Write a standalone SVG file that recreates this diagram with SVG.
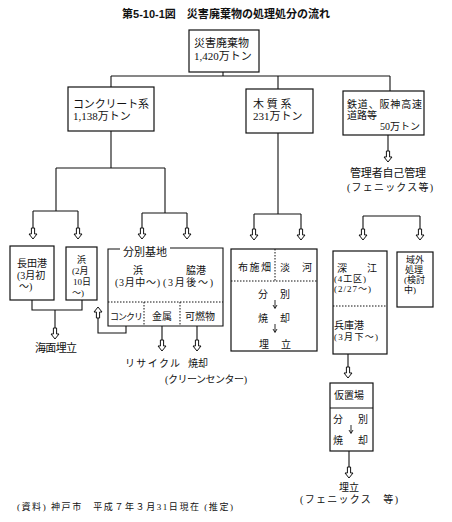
<svg xmlns="http://www.w3.org/2000/svg" width="452" height="522" viewBox="0 0 452 522">
<style>
.t{font-family:"Liberation Serif","Noto Sans CJK JP",serif;font-size:11px;fill:#111}
.s{font-size:10px}
.xs{font-size:9px}
.ttl{font-family:"Liberation Sans","Noto Sans CJK JP",sans-serif;font-size:11.5px;font-weight:bold;fill:#111}
.box{fill:#fff;stroke:#111;stroke-width:1.2}
.ln{fill:none;stroke:#111;stroke-width:1.1}
.thin{fill:none;stroke:#111;stroke-width:0.9}
.dot{fill:none;stroke:#111;stroke-width:1;stroke-dasharray:1.5 1.5}
.ar{fill:#fff;stroke:#111;stroke-width:1}
.m{text-anchor:middle}
</style>
<defs>
<path id="ad" class="ar" d="M-1.6,0 L1.6,0 L1.6,6 L4,6 L0,11 L-4,6 L-1.6,6 Z"/>
<path id="au" class="ar" d="M-1.6,11 L1.6,11 L1.6,5 L4,5 L0,0 L-4,5 L-1.6,5 Z"/>
<path id="sa" class="thin" d="M0,0 V8 M-2,5 L0,8.5 L2,5"/>
</defs>
<rect width="452" height="522" fill="#fff"/>

<text class="ttl" x="122" y="18" textLength="208" lengthAdjust="spacingAndGlyphs">第5-10-1図　災害廃棄物の処理処分の流れ</text>

<g id="connectors">
<path class="ln" d="M223,72 V76 M111,76 H390 M111,76 V87 M278,76 V89 M390,76 V91"/>
<path class="ln" d="M111,131 V168 M56,168 H165 M56,168 V211 M33,211 H78 M33,211 V228 M78,211 V228 M165,168 V213 M142,213 H187 M142,213 V228 M187,213 V228"/>
<path class="ln" d="M32,300 V310 H82 V300 M55,310 V328"/>
<path class="ln" d="M126,326 V333 H98 V318"/>
<path class="ln" d="M162,326 V340 M197,326 V340"/>
<path class="ln" d="M278,133 V214 M254,214 H301 M254,214 V229 M301,214 V229"/>
<path class="ln" d="M388,135 V151"/>
<path class="ln" d="M363,216 H420 M363,216 V229 M420,216 V229"/>
<path class="ln" d="M348,354 V367 M349,451 V467"/>
<use href="#ad" x="33" y="228"/>
<use href="#ad" x="78" y="228"/>
<use href="#ad" x="142" y="228"/>
<use href="#ad" x="187" y="228"/>
<use href="#ad" x="55" y="328"/>
<use href="#au" x="98" y="307"/>
<use href="#ad" x="162" y="340"/>
<use href="#ad" x="197" y="340"/>
<use href="#ad" x="254" y="229"/>
<use href="#ad" x="301" y="229"/>
<use href="#ad" x="388" y="151"/>
<use href="#ad" x="363" y="229"/>
<use href="#ad" x="420" y="229"/>
<use href="#ad" x="348" y="367"/>
<use href="#ad" x="349" y="467"/>
</g>

<g id="n-total">
<rect class="box" x="189" y="30" width="70" height="42"/>
<text class="t" x="194" y="47">災害廃棄物</text>
<text class="t" x="194" y="60">1,420万トン</text>
</g>

<g id="n-concrete">
<rect class="box" x="68" y="87" width="86" height="44"/>
<text class="t" x="73" y="108" textLength="76">コンクリート系</text>
<text class="t" x="73" y="120">1,138万トン</text>
</g>

<g id="n-wood">
<rect class="box" x="246" y="89" width="67" height="44"/>
<text class="t" x="253" y="108">木 質 系</text>
<text class="t" x="253" y="120">231万トン</text>
</g>

<g id="n-rail">
<rect class="box" x="343" y="91" width="81" height="44"/>
<text class="t s" x="347" y="107.5" textLength="75">鉄道、阪神高速</text>
<text class="t s" x="347" y="118.5">道路等</text>
<text class="t s" x="420" y="130" text-anchor="end">50万トン</text>
</g>

<g id="n-self">
<text class="t" x="350" y="177" textLength="76">管理者自己管理</text>
<text class="t s" x="347" y="191" textLength="86">(フェニックス等)</text>
</g>

<g id="n-nagata">
<rect class="box" x="10" y="246" width="44" height="54"/>
<text class="t s" x="17" y="267">長田港</text>
<text class="t s" x="17" y="279">(3月初</text>
<text class="t s" x="19" y="290">～)</text>
</g>

<g id="n-hama1">
<rect class="box" x="66" y="247" width="31" height="53"/>
<text class="t xs" x="77" y="263">浜</text>
<text class="t xs" x="72" y="274">(2月</text>
<text class="t xs" x="73" y="285">10日</text>
<text class="t xs" x="72" y="296">～)</text>
</g>

<g id="n-sorting">
<rect x="108" y="248" width="115" height="78" fill="#fff" stroke="none"/>
<path class="ln" d="M120,249 H108 V326 H223 V248 H170"/>
<text class="t" x="123" y="256">分別基地</text>
<text class="t s m" x="138" y="274">浜</text>
<text class="t s" x="115" y="286" textLength="45">(3月中～)</text>
<text class="t s m" x="196" y="274">脇港</text>
<text class="t s" x="163" y="286" textLength="50">(3月後～)</text>
<path class="dot" d="M108,302 H223 M144,302 V326 M180,302 V326"/>
<text class="t xs" x="110" y="320" textLength="33">コンクリ</text>
<text class="t s m" x="162" y="320">金属</text>
<text class="t s m" x="200" y="320">可燃物</text>
</g>

<g id="n-kaimen">
<text class="t" x="35" y="352" textLength="42">海面埋立</text>
</g>

<g id="n-recycle">
<text class="t s" x="125" y="367" textLength="55">リサイクル</text>
</g>

<g id="n-burn">
<text class="t s" x="188" y="367">焼却</text>
<text class="t s" x="165" y="383" textLength="82">(クリーンセンター)</text>
</g>

<g id="n-fuse">
<rect class="box" x="231" y="249" width="86" height="102"/>
<path class="dot" d="M275,249 V281 M231,281 H317"/>
<text class="t s" x="238" y="271" textLength="33">布施畑</text>
<text class="t s" x="280" y="271">淡</text>
<text class="t s" x="302" y="271">河</text>
<text class="t s" x="258" y="298">分</text>
<text class="t s" x="280" y="298">別</text>
<use href="#sa" x="275" y="300"/>
<text class="t s" x="258" y="322">焼</text>
<text class="t s" x="280" y="322">却</text>
<use href="#sa" x="275" y="324"/>
<text class="t s" x="259" y="348">埋</text>
<text class="t s" x="281" y="348">立</text>
</g>

<g id="n-fukae">
<rect class="box" x="333" y="251" width="54" height="103"/>
<path class="dot" d="M333,306 H387"/>
<text class="t s" x="337" y="272">深</text>
<text class="t s" x="367" y="272">江</text>
<text class="t xs" x="334" y="282" textLength="32">(4工区)</text>
<text class="t xs" x="334" y="292" textLength="37">(2/27～)</text>
<text class="t s" x="334" y="329">兵庫港</text>
<text class="t xs" x="334" y="340" textLength="44">(3月下～)</text>
</g>

<g id="n-outside">
<rect class="box" x="397" y="252" width="36" height="55"/>
<text class="t xs" x="406" y="263">域外</text>
<text class="t xs" x="405" y="273">処理</text>
<text class="t xs" x="404" y="283">(検討</text>
<text class="t xs" x="404" y="293">中)</text>
</g>

<g id="n-temp">
<rect class="box" x="330" y="383" width="43" height="68"/>
<path class="ln" d="M330,408 H373"/>
<text class="t s" x="334" y="399">仮置場</text>
<text class="t s" x="333" y="423">分</text>
<text class="t s" x="358" y="423">別</text>
<use href="#sa" x="351" y="425"/>
<text class="t s" x="333" y="444">焼</text>
<text class="t s" x="358" y="444">却</text>
</g>

<g id="n-landfill">
<text class="t s m" x="349" y="491">埋立</text>
<text class="t s" x="300" y="503" textLength="98">(フェニックス　等)</text>
</g>

<text class="t xs" x="17" y="510" textLength="216">(資料) 神戸市　平成７年３月31日現在 (推定)</text>
</svg>
